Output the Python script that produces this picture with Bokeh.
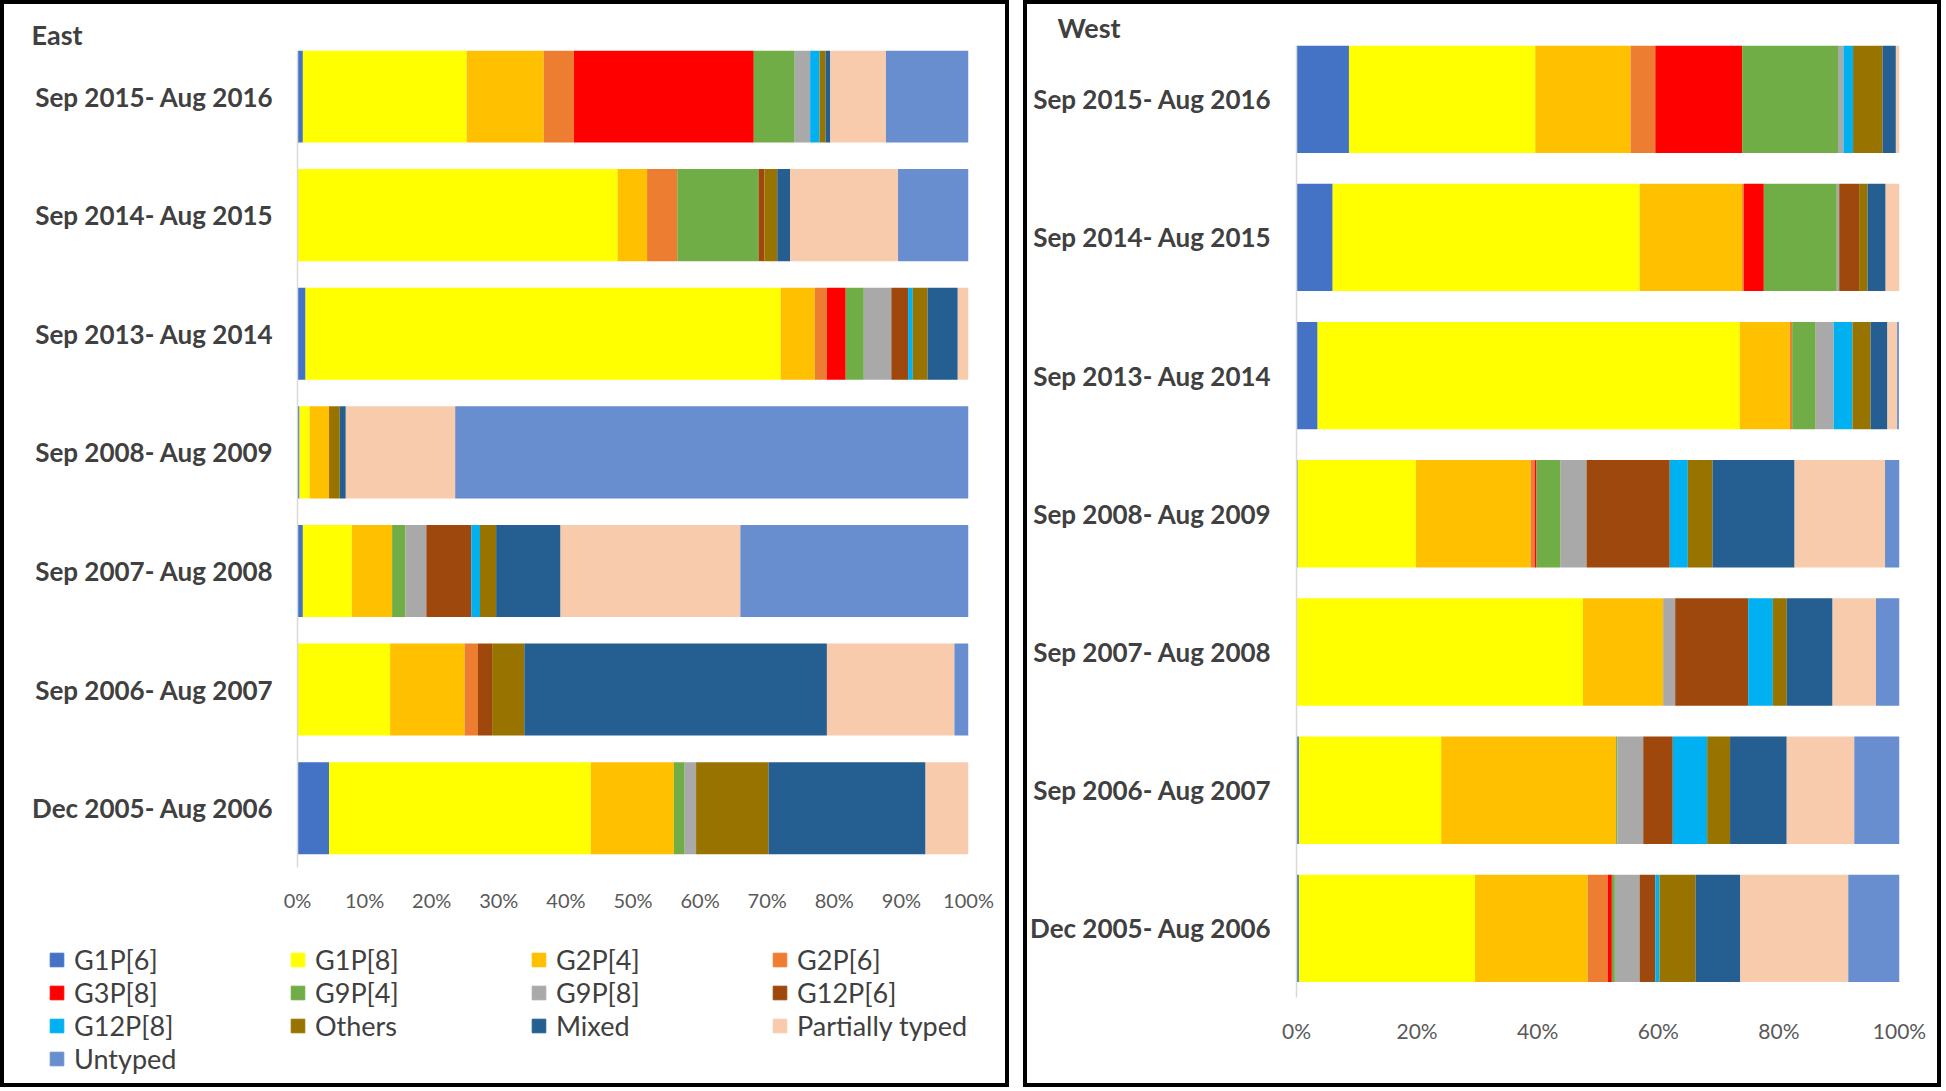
from bokeh.plotting import figure
from bokeh.models import (ColumnDataSource, Range1d, FixedTicker, PrintfTickFormatter,
                          Legend, LegendItem, Label)
from bokeh.layouts import row, column
from bokeh.embed import file_html
from bokeh.resources import INLINE

# ---------------- data ----------------
periods = ["Sep 2015- Aug 2016", "Sep 2014- Aug 2015", "Sep 2013- Aug 2014",
           "Sep 2008- Aug 2009", "Sep 2007- Aug 2008", "Sep 2006- Aug 2007",
           "Dec 2005- Aug 2006"]

genotypes = ["G1P[6]", "G1P[8]", "G2P[4]", "G2P[6]", "G3P[8]", "G9P[4]", "G9P[8]",
             "G12P[6]", "G12P[8]", "Others", "Mixed", "Partially typed", "Untyped"]

colors = ["#4472C4", "#FFFF00", "#FFC000", "#ED7D31", "#FF0000", "#70AD47", "#A9A9A9",
          "#9E480E", "#00B0F0", "#997300", "#255E91", "#F8CBAD", "#698ED0"]

# East (% of samples, periods in the order above)
east_G1P6 = [0.8, 0, 1.2, 0.3, 0.8, 0, 4.7]
east_G1P8 = [24.4, 47.7, 70.8, 1.5, 7.3, 13.8, 39.0]
east_G2P4 = [11.5, 4.4, 5.1, 2.9, 6.0, 11.1, 12.4]
east_G2P6 = [4.5, 4.5, 1.8, 0, 0, 2.0, 0]
east_G3P8 = [26.8, 0, 2.8, 0, 0, 0, 0]
east_G9P4 = [6.1, 12.1, 2.7, 0, 2.0, 0, 1.6]
east_G9P8 = [2.3, 0, 4.1, 0, 3.1, 0, 1.7]
east_G12P6 = [0, 0.9, 2.5, 0, 6.7, 2.1, 0]
east_G12P8 = [1.4, 0, 0.7, 0, 1.3, 0, 0]
east_Others = [0.9, 1.9, 2.2, 1.6, 2.4, 4.8, 10.8]
east_Mixed = [0.7, 1.9, 4.5, 0.9, 9.6, 45.1, 23.4]
east_Partial = [8.3, 16.1, 1.6, 16.3, 26.8, 19.0, 6.4]
east_Untyped = [12.3, 10.5, 0, 76.5, 34.0, 2.1, 0]

# West
west_G1P6 = [8.7, 6.0, 3.5, 0.2, 0, 0.4, 0.4]
west_G1P8 = [30.9, 50.9, 70.0, 19.6, 47.5, 23.6, 29.2]
west_G2P4 = [15.8, 17.0, 8.3, 19.0, 13.3, 29.0, 18.7]
west_G2P6 = [4.1, 0.3, 0.4, 0.7, 0, 0, 3.3]
west_G3P8 = [14.4, 3.3, 0, 0.3, 0, 0, 0.7]
west_G9P4 = [15.9, 12.1, 3.9, 4.0, 0, 0.2, 0.5]
west_G9P8 = [0.9, 0.4, 3.0, 4.3, 2.0, 4.3, 4.1]
west_G12P6 = [0, 3.3, 0, 13.8, 12.1, 4.9, 2.6]
west_G12P8 = [1.6, 0, 3.1, 3.0, 4.1, 5.7, 0.7]
west_Others = [4.9, 1.4, 3.0, 4.1, 2.3, 3.8, 6.0]
west_Mixed = [2.2, 3.0, 2.8, 13.6, 7.6, 9.4, 7.4]
west_Partial = [0.6, 2.3, 1.6, 15.0, 7.2, 11.2, 17.9]
west_Untyped = [0, 0, 0.3, 2.4, 3.9, 7.5, 8.5]

east_ticks = [0, 10, 20, 30, 40, 50, 60, 70, 80, 90, 100]
west_ticks = [0, 20, 40, 60, 80, 100]

east_series = [east_G1P6, east_G1P8, east_G2P4, east_G2P6, east_G3P8, east_G9P4, east_G9P8,
               east_G12P6, east_G12P8, east_Others, east_Mixed, east_Partial, east_Untyped]
west_series = [west_G1P6, west_G1P8, west_G2P4, west_G2P6, west_G3P8, west_G9P4, west_G9P8,
               west_G12P6, west_G12P8, west_Others, west_Mixed, west_Partial, west_Untyped]

FONT = "Lato"
TEXT = "#404040"
BORDER = {"border": "4px solid black", "box-sizing": "content-box"}


def plain_figure(width, height, **kw):
    f = figure(width=width, height=height, output_backend="svg", toolbar_location=None,
               x_axis_location=None, y_axis_location=None, frame_align=False,
               x_range=Range1d(0, width), y_range=Range1d(0, height), **kw)
    f.outline_line_color = None
    f.xgrid.grid_line_color = None
    f.ygrid.grid_line_color = None
    return f


def header_figure(title, width, height, tx, tmid):
    h = plain_figure(width, height, min_border=0)
    h.add_layout(Label(x=tx, y=height - tmid, text=title, text_font=FONT,
                       text_font_style="bold", text_font_size="27px", text_color=TEXT,
                       text_baseline="middle", text_align="left"))
    return h


def bar_figure(series, ticks, width, height, b_left, b_right, b_bottom, bar_h,
               tick_size, tick_standoff, label_standoff):
    n = len(periods)
    ypos = list(range(n - 1, -1, -1))
    data = {"y": ypos, "period": periods}
    for g, s in zip(genotypes, series):
        data[g] = s
    src = ColumnDataSource(data)

    p = figure(width=width, height=height, output_backend="svg", toolbar_location=None,
               frame_align=False,
               x_range=Range1d(0, 100), y_range=Range1d(-0.5, n - 1 + bar_h / 2),
               min_border_left=b_left, min_border_right=b_right,
               min_border_top=0, min_border_bottom=b_bottom)
    p.outline_line_color = None
    p.xgrid.grid_line_color = None
    p.ygrid.grid_line_color = None

    p.hbar_stack(genotypes, y="y", height=bar_h, color=colors, line_color=None, source=src)

    xa = p.xaxis[0]
    xa.ticker = FixedTicker(ticks=ticks)
    xa.formatter = PrintfTickFormatter(format="%d%%")
    xa.axis_line_color = None
    xa.major_tick_line_color = None
    xa.minor_tick_line_color = None
    xa.major_tick_out = 0
    xa.major_label_standoff = tick_standoff
    xa.major_label_text_font = FONT
    xa.major_label_text_font_size = tick_size
    xa.major_label_text_color = "#595959"

    ya = p.yaxis[0]
    ya.ticker = FixedTicker(ticks=ypos)
    ya.major_label_overrides = {y: per for y, per in zip(ypos, periods)}
    ya.axis_line_color = "#D9D9D9"
    ya.axis_line_width = 1.5
    ya.major_tick_line_color = None
    ya.minor_tick_line_color = None
    ya.major_tick_out = 0
    ya.major_label_standoff = label_standoff
    ya.major_label_text_font = FONT
    ya.major_label_text_font_style = "bold"
    ya.major_label_text_font_size = "26px"
    ya.major_label_text_color = TEXT
    return p


def legend_figure(width, height, left, top):
    lg = plain_figure(width, height, min_border_left=left, min_border_top=top,
                      min_border_right=0, min_border_bottom=0)
    # one undrawable (NaN) row per renderer, so that only the legend swatch shows
    swatch = ColumnDataSource(data=dict(y=[float("nan")], right=[float("nan")]))
    rs = [lg.hbar(y="y", right="right", height=1, color=c, source=swatch) for c in colors]
    items = [LegendItem(label=g, renderers=[r]) for g, r in zip(genotypes, rs)]
    leg = Legend(items=items, location="top_left", orientation="horizontal", ncols=4,
                 glyph_width=17, glyph_height=17, label_standoff=9,
                 label_width=215, label_height=30, spacing=0,
                 padding=0, margin=0, border_line_color=None, background_fill_alpha=0,
                 label_text_font=FONT, label_text_font_size="27px",
                 label_text_color=TEXT)
    lg.add_layout(leg)
    return lg


# ---------- East panel (inner 1001 x 1079) ----------
E_W = 1001
east_head = header_figure("East", E_W, 46, tx=27, tmid=29.5)
east_bars = bar_figure(east_series, east_ticks, E_W, 864, b_left=293, b_right=37,
                       b_bottom=46, bar_h=0.776, tick_size="20px", tick_standoff=20,
                       label_standoff=24)
east_leg = legend_figure(E_W, 169, left=44, top=29)
east_panel = column(east_head, east_bars, east_leg, spacing=0, styles=BORDER)

# ---------- West panel (inner 910 x 1079) ----------
W_W = 910
west_head = header_figure("West", W_W, 41, tx=30, tmid=23)
west_bars = bar_figure(west_series, west_ticks, W_W, 1038, b_left=268, b_right=38,
                       b_bottom=86, bar_h=0.777, tick_size="21px", tick_standoff=20,
                       label_standoff=25)
west_panel = column(west_head, west_bars, spacing=0, styles=BORDER)

layout = row(east_panel, west_panel, spacing=14)

open("out.html", "w").write(file_html(layout, INLINE))
